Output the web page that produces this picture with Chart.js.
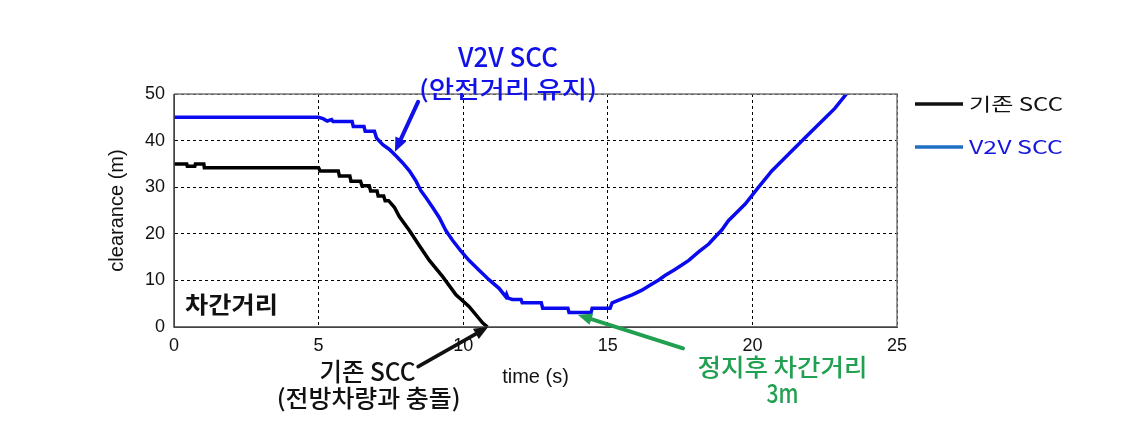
<!DOCTYPE html>
<html>
<head>
<meta charset="utf-8">
<script src="https://cdn.jsdelivr.net/npm/chart.js@4.4.1/dist/chart.umd.min.js"></script>
<style>
  html, body { margin: 0; padding: 0; background: #ffffff; }
  #wrap { width: 1135px; height: 441px; }
</style>
</head>
<body>
<div id="wrap"><canvas id="c" width="1135" height="441"></canvas></div>
<script>
// ---- data ----
const timeBase = [0, 0.44, 0.46, 0.72, 0.74, 1.03, 1.05, 5.0, 5.05, 5.68, 5.72, 6.08, 6.12, 6.45, 6.5, 6.75,
                  6.8, 7.02, 7.06, 7.25, 7.3, 7.42, 7.62, 7.79, 8.14, 8.48, 8.83, 9.29, 9.75, 10.2, 10.67, 10.84];
const clearanceBase = [35, 35, 34.5, 34.5, 35, 35, 34.2, 34.2, 33.5, 33.5, 32.4, 32.4, 31.3, 31.3, 30.3, 30.3,
                       29.2, 29.2, 28.1, 28.1, 27.1, 27.1, 25.7, 23.7, 20.7, 17.5, 14.3, 10.8, 6.9, 4.4, 0.9, 0];

const timeV2V = [0, 5.0, 5.15, 5.3, 5.45, 5.5, 6.16, 6.2, 6.57, 6.61, 6.93, 7.0, 7.22, 7.45, 7.68, 7.91,
                 8.14, 8.37, 8.54, 8.71, 8.94, 9.17, 9.4, 9.63, 9.91, 10.2, 10.55, 10.9, 11.24, 11.47, 11.5,
                 11.55, 11.7, 12.0, 12.04, 12.7, 12.75, 13.62, 13.66, 14.42, 14.46, 15.08, 15.15, 15.55, 15.84,
                 16.18, 16.47, 16.76, 16.99, 17.28, 17.56, 17.8, 18.14, 18.49, 18.71, 18.94, 19.17, 19.75, 20.2,
                 20.67, 21.24, 21.82, 22.39, 22.85, 23.25];
const clearanceV2V = [45, 45, 44.7, 44.2, 44.5, 44.1, 44.1, 43.0, 43.0, 42.0, 42.0, 40.6, 39.1, 38.1, 36.7, 35.2,
                      33.5, 31.3, 29.2, 27.8, 25.7, 23.5, 20.7, 18.6, 16.4, 14.3, 12.2, 10.1, 8.3, 6.5, 7.0,
                      6.2, 5.9, 5.9, 5.2, 5.2, 4.0, 4.0, 3.1, 3.1, 4.0, 4.0, 5.2, 6.2, 6.9,
                      7.9, 9.0, 10.1, 11.1, 12.2, 13.3, 14.3, 16.1, 17.8, 19.3, 20.8, 22.8, 26.4, 29.9,
                      33.5, 37.0, 40.6, 44.1, 46.9, 50];

const xTicks = [0, 5, 10, 15, 20, 25];
const yTicks = [0, 10, 20, 30, 40, 50];

const seriesNames = ['기존 SCC', 'V2V SCC'];
const xTitle = 'time (s)';
const yTitle = 'clearance (m)';

// annotations (anchored in data units)
const annotTexts = [
  { text: 'V2V SCC',           t: 11.55, v: 57.9,  w: 100, size: 27, color: '#1212e8', weight: '500' },
  { text: '(안전거리 유지)',     t: 11.55, v: 51.2,  w: 178, size: 24, color: '#1212e8', weight: '500' },
  { text: '차간거리',           t: 1.99,  v: 4.8,   w: 93,  size: 23, color: '#111111', weight: 'bold' },
  { text: '기존 SCC',           t: 6.69,  v: -9.6,  w: 96,  size: 25, color: '#111111', weight: '500' },
  { text: '(전방차량과 충돌)',   t: 6.73,  v: -15.2, w: 184, size: 24, color: '#111111', weight: '500' },
  { text: '정지후 차간거리',     t: 21.04, v: -8.6,  w: 170, size: 24, color: '#20a050', weight: '500' },
  { text: '3m',                t: 21.04, v: -14.2, w: 32,  size: 26, color: '#20a050', weight: '500' }
];
const annotArrows = [
  { t0: 8.44,  v0: 48.3, t1: 7.64,  v1: 37.6, color: '#1212e8', width: 4 },
  { t0: 8.44,  v0: -8.5, t1: 10.86, v1: 0.0,  color: '#111111', width: 3.5 },
  { t0: 17.6,  v0: -4.6, t1: 13.97, v1: 2.6,  color: '#20a050', width: 4 }
];

const toXY = (ts, vs) => ts.map((t, i) => ({ x: t, y: vs[i] }));

function drawFitText(ctx, txt, cx, cy, size, weight, color, targetW) {
  ctx.save();
  ctx.font = weight + ' ' + size + 'px "Noto Sans CJK KR", "Liberation Sans", sans-serif';
  const w = ctx.measureText(txt).width;
  const sx = targetW / w;
  ctx.translate(cx, cy);
  ctx.scale(sx, 1);
  ctx.fillStyle = color;
  ctx.textAlign = 'center';
  ctx.textBaseline = 'middle';
  ctx.fillText(txt, 0, 0);
  ctx.restore();
}

function drawArrow(ctx, x0, y0, x1, y1, color, width) {
  const ang = Math.atan2(y1 - y0, x1 - x0);
  const hl = 14, hw = 6;
  const bx = x1 - hl * Math.cos(ang), by = y1 - hl * Math.sin(ang);
  ctx.save();
  ctx.strokeStyle = color;
  ctx.fillStyle = color;
  ctx.lineWidth = width;
  ctx.lineCap = 'round';
  ctx.beginPath();
  ctx.moveTo(x0, y0);
  ctx.lineTo(bx, by);
  ctx.stroke();
  ctx.beginPath();
  ctx.moveTo(x1, y1);
  ctx.lineTo(bx + hw * Math.sin(ang), by - hw * Math.cos(ang));
  ctx.lineTo(bx - hw * Math.sin(ang), by + hw * Math.cos(ang));
  ctx.closePath();
  ctx.fill();
  ctx.restore();
}

const decorPlugin = {
  id: 'decor',
  afterDraw(chart) {
    const ctx = chart.ctx;
    const xs = chart.scales.x, ys = chart.scales.y;
    const a = chart.chartArea;
    // box frame
    ctx.save();
    ctx.strokeStyle = '#7a7a7a';
    ctx.lineWidth = 1.5;
    ctx.beginPath();
    ctx.moveTo(a.left, a.top); ctx.lineTo(a.right, a.top); ctx.lineTo(a.right, a.bottom);
    ctx.stroke();
    ctx.strokeStyle = '#444444';
    ctx.beginPath();
    ctx.moveTo(a.left, a.top); ctx.lineTo(a.left, a.bottom); ctx.lineTo(a.right, a.bottom);
    ctx.stroke();
    ctx.restore();

    // annotation arrows and texts
    annotArrows.forEach(ar => {
      drawArrow(ctx, xs.getPixelForValue(ar.t0), ys.getPixelForValue(ar.v0),
                xs.getPixelForValue(ar.t1), ys.getPixelForValue(ar.v1), ar.color, ar.width);
    });
    annotTexts.forEach(an => {
      drawFitText(ctx, an.text, xs.getPixelForValue(an.t), ys.getPixelForValue(an.v),
                  an.size, an.weight, an.color, an.w);
    });

    // legend (right side)
    const ds = chart.data.datasets;
    const legendRows = [
      { y: 104, lineColor: '#111111', textColor: '#111111', label: ds[0].label },
      { y: 147, lineColor: '#1f6fc4', textColor: '#1515e0', label: ds[1].label }
    ];
    legendRows.forEach(r => {
      ctx.save();
      ctx.strokeStyle = r.lineColor;
      ctx.lineWidth = 3.5;
      ctx.beginPath();
      ctx.moveTo(a.right + 18, r.y); ctx.lineTo(a.right + 66, r.y);
      ctx.stroke();
      ctx.restore();
      ctx.save();
      ctx.font = '18px "Noto Sans CJK KR", "Liberation Sans", sans-serif';
      const w = ctx.measureText(r.label).width;
      ctx.translate(a.right + 72, r.y);
      ctx.scale(94 / w, 1);
      ctx.fillStyle = r.textColor;
      ctx.textAlign = 'left';
      ctx.textBaseline = 'middle';
      ctx.fillText(r.label, 0, 0);
      ctx.restore();
    });
  }
};

new Chart(document.getElementById('c'), {
  type: 'scatter',
  data: {
    datasets: [
      { label: seriesNames[0], data: toXY(timeBase, clearanceBase), showLine: true,
        borderColor: '#000000', borderWidth: 3.5, pointRadius: 0, tension: 0, borderJoinStyle: 'miter' },
      { label: seriesNames[1], data: toXY(timeV2V, clearanceV2V), showLine: true,
        borderColor: '#0a0aee', borderWidth: 3.5, pointRadius: 0, tension: 0, borderJoinStyle: 'miter' }
    ]
  },
  options: {
    responsive: false,
    animation: false,
    layout: { padding: { left: 0, top: 94, right: 238, bottom: 0 } },
    plugins: { legend: { display: false }, tooltip: { enabled: false } },
    scales: {
      x: {
        type: 'linear', min: 0, max: 25,
        afterBuildTicks: s => { s.ticks = xTicks.map(v => ({ value: v })); },
        afterFit: s => { s.height = 114; },
        grid: { color: '#000000', lineWidth: 1, drawTicks: false },
        border: { display: true, color: '#444444', dash: [3, 3] },
        ticks: { color: '#111111', padding: 8, font: { family: '"Liberation Sans", Arial, sans-serif', size: 18 } },
        title: { display: true, text: xTitle, color: '#111111', padding: { top: 0, bottom: 52 },
                 font: { family: '"Liberation Sans", Arial, sans-serif', size: 20 } }
      },
      y: {
        type: 'linear', min: 0, max: 50,
        afterBuildTicks: s => { s.ticks = yTicks.map(v => ({ value: v })); },
        afterFit: s => { s.width = 174; },
        grid: { color: '#000000', lineWidth: 1, drawTicks: false },
        border: { display: true, color: '#444444', dash: [3, 3] },
        ticks: { color: '#111111', padding: 9, font: { family: '"Liberation Sans", Arial, sans-serif', size: 18 } },
        title: { display: true, text: yTitle, color: '#111111', padding: { top: 105, bottom: 0 },
                 font: { family: '"Liberation Sans", Arial, sans-serif', size: 20 } }
      }
    }
  },
  plugins: [decorPlugin]
});
</script>
</body>
</html>
